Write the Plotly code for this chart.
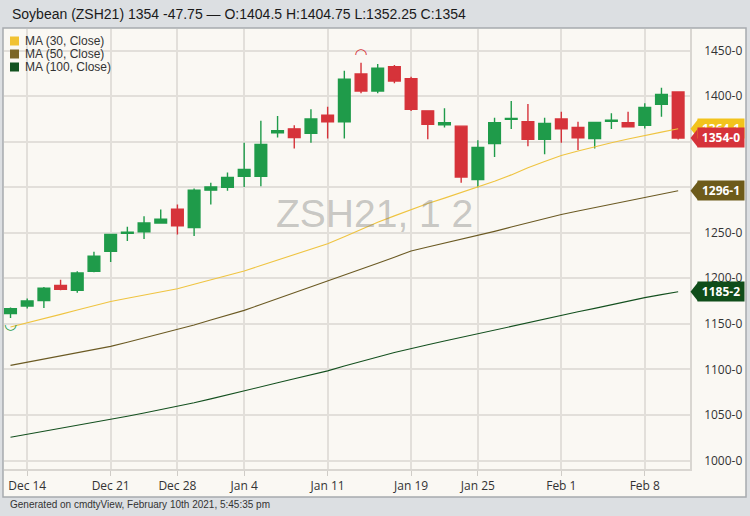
import plotly.graph_objects as go

# ---------------- data ----------------
dates = ["2020-12-11", "2020-12-14", "2020-12-15", "2020-12-16", "2020-12-17", "2020-12-18",
         "2020-12-21", "2020-12-22", "2020-12-23", "2020-12-24", "2020-12-28", "2020-12-29",
         "2020-12-30", "2020-12-31", "2021-01-04", "2021-01-05", "2021-01-06", "2021-01-07",
         "2021-01-08", "2021-01-11", "2021-01-12", "2021-01-13", "2021-01-14", "2021-01-15",
         "2021-01-19", "2021-01-20", "2021-01-21", "2021-01-22", "2021-01-25", "2021-01-26",
         "2021-01-27", "2021-01-28", "2021-01-29", "2021-02-01", "2021-02-02", "2021-02-03",
         "2021-02-04", "2021-02-05", "2021-02-08", "2021-02-09", "2021-02-10"]
opens = [1161.25, 1169.5, 1175.5, 1192.25, 1186.75, 1207.75, 1229.75, 1249.25, 1251, 1260.75,
         1275.75, 1255.75, 1296.75, 1299.75, 1312, 1312, 1359.75, 1364, 1359, 1379,
         1371.75, 1424.25, 1405.5, 1432.25, 1419, 1383.75, 1368.5, 1367, 1308.5, 1348,
         1374.5, 1371.75, 1352.5, 1374.75, 1365.5, 1353.5, 1372.25, 1370.75, 1368, 1391,
         1404.5]
highs = [1168, 1177.75, 1190.5, 1198.5, 1207.75, 1229, 1249, 1256.5, 1268, 1275.5,
         1281, 1298.5, 1304.75, 1316, 1348.75, 1373, 1378, 1368, 1385.5, 1388.25,
         1427.75, 1436.5, 1435.25, 1434, 1421.25, 1384, 1386.5, 1367.25, 1351.5, 1376.25,
         1394.5, 1391.25, 1376.25, 1382.75, 1371.75, 1371.75, 1381, 1382.75, 1392, 1409,
         1404.75]
lows = [1156.5, 1166.75, 1167.5, 1186.75, 1184.25, 1206.5, 1218, 1241, 1243, 1260.5,
        1248, 1246.5, 1281, 1296, 1300.25, 1301, 1354.5, 1342.5, 1348.75, 1353.5,
        1353.5, 1403, 1403, 1414, 1383.5, 1352.5, 1365.5, 1304.75, 1299.75, 1333.25,
        1363.75, 1345, 1336.25, 1348.75, 1340.75, 1342.5, 1363.75, 1365.5, 1364.5, 1377.25,
        1352.25]
closes = [1166.75, 1175, 1189, 1188, 1205.75, 1224.25, 1248, 1250.5, 1260.75, 1264.75,
          1257.5, 1296.75, 1300.25, 1310.75, 1319.5, 1347, 1362, 1354.5, 1374.75, 1371.75,
          1418.5, 1405.5, 1430.5, 1416.5, 1385.5, 1369, 1370.75, 1311.25, 1343.5, 1370.75,
          1375.5, 1352.5, 1370, 1364, 1354.25, 1371, 1373.5, 1366.25, 1387.5, 1401.75,
          1354]
ma30 = [1146.5, 1150.9, 1155.7, 1160.4, 1165.2, 1169.9, 1174.6, 1178.1, 1181.6, 1185.2,
        1188.6, 1193.4, 1198.4, 1203.2, 1208.0, 1214.1, 1220.0, 1225.9, 1232.0, 1237.9,
        1245.5, 1253.5, 1261.5, 1268.5, 1275.5, 1282.0, 1288.0, 1294.0, 1300.0, 1306.5,
        1313.5, 1321.4, 1328.1, 1334.8, 1339.7, 1344.4, 1348.7, 1352.9, 1357.0, 1360.4,
        1364.1]
ma50 = [1104.4, 1107.9, 1111.4, 1114.9, 1118.4, 1121.9, 1125.3, 1129.8, 1134.4, 1138.9,
        1143.5, 1148.8, 1154.2, 1159.6, 1164.8, 1171.2, 1177.6, 1183.8, 1190.2, 1196.5,
        1202.9, 1209.7, 1216.5, 1223.2, 1230.0, 1234.4, 1238.6, 1242.7, 1246.8, 1251.5,
        1256.2, 1260.9, 1265.5, 1270.1, 1273.8, 1277.5, 1281.1, 1284.7, 1288.4, 1292.3,
        1296.1]
ma100 = [1025.6, 1028.8, 1032.0, 1035.3, 1038.6, 1041.8, 1045.0, 1048.6, 1052.1, 1055.6,
         1059.2, 1063.4, 1067.7, 1071.9, 1076.2, 1080.8, 1085.3, 1089.8, 1094.3, 1098.4,
         1103.8, 1109.1, 1113.7, 1118.5, 1123.2, 1127.1, 1131.1, 1135.2, 1139.1, 1143.2,
         1147.1, 1151.2, 1155.2, 1159.2, 1163.2, 1167.0, 1171.0, 1174.8, 1178.8, 1182.1,
         1185.25]
ma_names = ["MA (30, Close)", "MA (50, Close)", "MA (100, Close)"]
tick_dates = ["2020-12-14", "2020-12-21", "2020-12-28", "2021-01-04", "2021-01-11",
              "2021-01-19", "2021-01-25", "2021-02-01", "2021-02-08"]
tick_labels = ["Dec 14", "Dec 21", "Dec 28", "Jan 4", "Jan 11", "Jan 19", "Jan 25", "Feb 1", "Feb 8"]
y_ticks = [1000, 1050, 1100, 1150, 1200, 1250, 1300, 1350, 1400, 1450]
y_tick_labels = ["1000-0", "1050-0", "1100-0", "1150-0", "1200-0", "1250-0",
                 "1300-0", "1350-0", "1400-0", "1450-0"]
title_text = "Soybean (ZSH21) 1354 -47.75 \u2014 O:1404.5 H:1404.75 L:1352.25 C:1354"
watermark = "ZSH21, 1 2"
footer = "Generated on cmdtyView, February 10th 2021, 5:45:35 pm"

# ---------------- style ----------------
W, H = 750, 516
ML, MR, MT, MB = 4, 60, 29, 47
PW, PH = W - ML - MR, H - MT - MB
GREEN, RED = "#1f9b4a", "#d6333a"
MA_LINE = ["#efc441", "#6b5a23", "#14501f"]
MA_TAG = ["#f2c31c", "#6d5b1b", "#0f4d1a"]
MA_SQ = ["#f1c232", "#7b6526", "#12521f"]
CREAM = "#faf8f3"
OUTER = "#dcdfe2"
GRID = "#e2dfda"
XR = [-0.39, len(dates) - 1 + 0.71]
YR = [990.7, 1473.6]

idx = list(range(len(dates)))


def px_x(p):
    return (p - ML) / PW


def px_y(p):
    return (H - MB - p) / PH


def val_y(v):
    return (v - YR[0]) / (YR[1] - YR[0])


def eighths(v):
    whole = int(v)
    return f"{whole}-{int(round((v - whole) * 8))}"


fig = go.Figure()
for vals, col in zip([ma100, ma50, ma30], MA_LINE[::-1]):
    fig.add_trace(go.Scatter(x=idx, y=vals, mode="lines", line=dict(color=col, width=1.1),
                             showlegend=False, hoverinfo="skip"))

fig.add_trace(go.Candlestick(
    x=idx, open=opens, high=highs, low=lows, close=closes,
    increasing=dict(line=dict(color=GREEN, width=1.4), fillcolor=GREEN),
    decreasing=dict(line=dict(color=RED, width=1.4), fillcolor=RED),
    whiskerwidth=0, showlegend=False, hoverinfo="skip"))

# highest high / lowest low markers
imax = max(idx, key=lambda i: highs[i])
imin = min(idx, key=lambda i: lows[i])
fig.add_trace(go.Scatter(x=[imax], y=[highs[imax]], mode="text", text=["\u25E0"],
                         textposition="top center", cliponaxis=False,
                         textfont=dict(color=RED, size=15, family="DejaVu Sans"),
                         showlegend=False, hoverinfo="skip"))
fig.add_trace(go.Scatter(x=[imin], y=[lows[imin]], mode="text", text=["\u25E1"],
                         textposition="bottom center", cliponaxis=False,
                         textfont=dict(color=GREEN, size=15, family="DejaVu Sans"),
                         showlegend=False, hoverinfo="skip"))

shapes = []
annotations = []

# outer chart frame
shapes.append(dict(type="rect", xref="paper", yref="paper", layer="below",
                   x0=px_x(3), x1=px_x(746), y0=px_y(497), y1=px_y(28),
                   fillcolor=CREAM, line=dict(color="#a7abaf", width=1.5)))

# price tags on right axis
tags = [(ma30[-1], MA_TAG[0]), (ma50[-1], MA_TAG[1]), (ma100[-1], MA_TAG[2]), (closes[-1], RED)]
half = 9.5 / PH
for v, col in tags:
    yc = val_y(v)
    xt, xb = px_x(690.5), px_x(698)
    shapes.append(dict(type="path", xref="paper", yref="paper", layer="above",
                       path=f"M {xt},{yc} L {xb},{yc + half} L {xb},{yc - half} Z",
                       fillcolor=col, line=dict(width=0)))
for v, col in tags:
    annotations.append(dict(xref="paper", yref="y", x=1, y=v, xanchor="left", yanchor="middle",
                            xshift=7, text=f"<b>{eighths(v)}</b>", showarrow=False,
                            bgcolor=col, width=46, height=19, borderpad=0,
                            font=dict(family="Open Sans", size=12, color="white")))

# legend
for k, (name, col) in enumerate(zip(ma_names, MA_SQ)):
    yc = 41 + 13 * k
    shapes.append(dict(type="rect", xref="paper", yref="paper", layer="above",
                       x0=px_x(10), x1=px_x(19), y0=px_y(yc + 4.5), y1=px_y(yc - 4.5),
                       fillcolor=col, line=dict(width=0)))
    annotations.append(dict(xref="paper", yref="paper", x=px_x(23), y=px_y(yc),
                            xanchor="left", yanchor="middle", text=name, showarrow=False,
                            font=dict(family="Liberation Sans, Arial", size=12, color="#333333")))

# watermark
annotations.append(dict(xref="paper", yref="paper", x=px_x(374), y=px_y(213), text=watermark,
                        showarrow=False, xanchor="center", yanchor="middle",
                        font=dict(family="Liberation Sans, Arial", size=39,
                                  color="rgba(120,120,120,0.4)")))
# title
annotations.append(dict(xref="paper", yref="paper", x=px_x(10), y=px_y(14), text=title_text,
                        showarrow=False, xanchor="left", yanchor="middle",
                        font=dict(family="Liberation Sans, Arial", size=14, color="#1a1a1a")))
# footer
annotations.append(dict(xref="paper", yref="paper", x=px_x(8), y=px_y(504), text=footer,
                        showarrow=False, xanchor="left", yanchor="middle",
                        font=dict(family="Liberation Sans, Arial", size=10, color="#333333")))

fig.update_layout(
    width=W, height=H,
    margin=dict(l=ML, r=MR, t=MT, b=MB, pad=0),
    paper_bgcolor=OUTER, plot_bgcolor=CREAM,
    showlegend=False,
    boxgap=0.3, boxgroupgap=0,
    shapes=shapes, annotations=annotations,
    xaxis=dict(range=XR, rangeslider=dict(visible=False),
               tickvals=[dates.index(d) for d in tick_dates], ticktext=tick_labels,
               showgrid=True, gridcolor=GRID, gridwidth=1.5,
               ticks="outside", ticklen=5, tickcolor="#cfccc7", tickwidth=1,
               showline=True, linecolor="#d9d6d1", linewidth=2,
               zeroline=False,
               tickfont=dict(family="Open Sans", size=12, color="#333333")),
    yaxis=dict(range=YR, side="right", tickvals=y_ticks, ticktext=y_tick_labels,
               showgrid=True, gridcolor=GRID, gridwidth=2,
               ticks="", ticklabelstandoff=10,
               showline=True, linecolor="#d9d6d1", linewidth=1.5,
               zeroline=False,
               tickfont=dict(family="Open Sans", size=12, color="#333333")),
)

fig.write_html("out.html",
               config={"displayModeBar": False},
               post_script="document.body.style.margin='0';document.body.style.padding='0';"
                           "document.documentElement.style.overflow='hidden';")
